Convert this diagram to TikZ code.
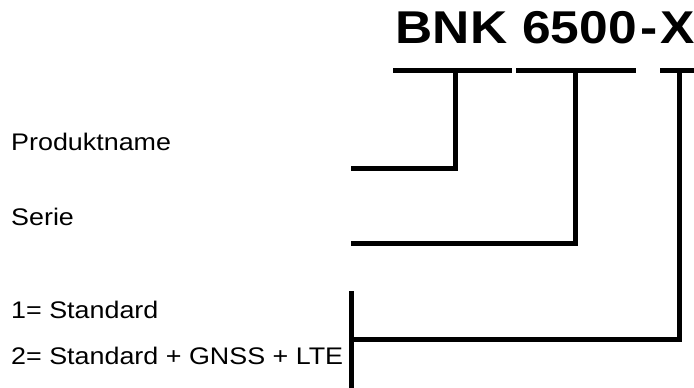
\documentclass[tikz,border=0pt]{standalone}
\usepackage{fontspec}
\setmainfont[FakeStretch=1.12]{Liberation Sans}
\begin{document}
\begin{tikzpicture}[x=1pt,y=-1pt,
  lbl/.style={anchor=base west,inner sep=0pt,font=\fontsize{24}{28}\selectfont},
  ttl/.style={anchor=base,inner sep=0pt,font=\fontsize{46}{50}\selectfont\bfseries},
  ln/.style={line width=5pt,line join=miter},
  bar/.style={line width=5pt}]
\useasboundingbox (0,0) rectangle (694,388);
% title
\node[ttl] (bnk) at (451.5,43) {BNK};
\node[ttl] (num) at (579.5,43) {6500};
\node[ttl] (dash) at (649,43) {-};
\node[ttl] (x) at (678,43) {X};
% bars
\coordinate (b1l) at (393,70.5); \coordinate (b1r) at (512,70.5);
\coordinate (b2l) at (516,70.5); \coordinate (b2r) at (636,70.5);
\coordinate (b3l) at (660,70.5); \coordinate (b3r) at (694,70.5);
\draw[bar] (b1l) -- (b1r);
\draw[bar] (b2l) -- (b2r);
\draw[bar] (b3l) -- (b3r);
% labels
\node[lbl] (prod) at (11,150) {Produktname};
\node[lbl] (serie) at (11,225) {Serie};
\node[lbl] (std1) at (11,318) {1= Standard};
\node[lbl] (std2) at (11,364) {2= Standard + GNSS + LTE};
% connectors
\coordinate (p1) at (351,168); \coordinate (p2) at (455.5,70.5);
\coordinate (s1) at (351,243); \coordinate (s2) at (575,70.5);
\coordinate (k1) at (351,339); \coordinate (k2) at (679,70.5);
\draw[ln] (p1) -| (p2);
\draw[ln] (s1) -| (s2);
\draw[ln] (k1) -| (k2);
\coordinate (bt) at (351,291); \coordinate (bb) at (351,388);
\draw[ln] (bt) -- (bb);
\end{tikzpicture}
\end{document}
